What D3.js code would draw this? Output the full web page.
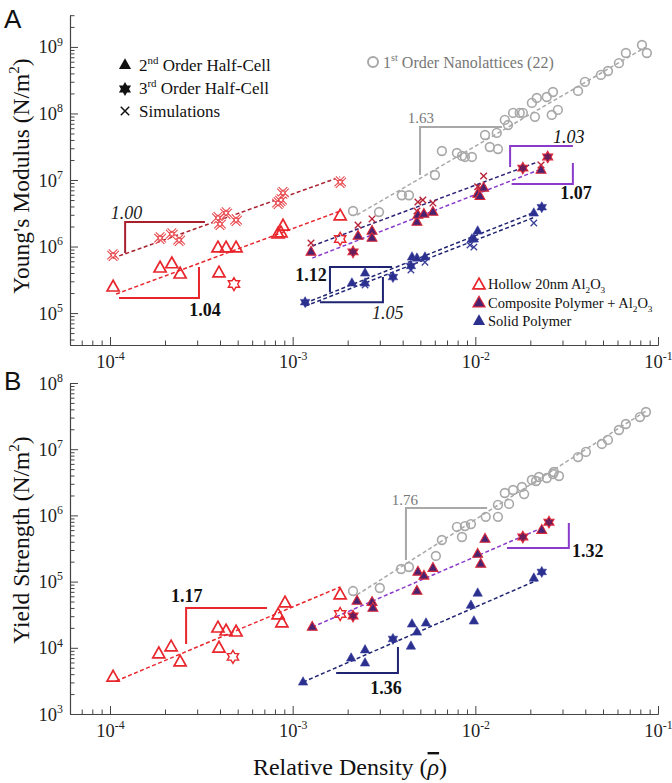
<!DOCTYPE html>
<html><head><meta charset="utf-8">
<script src="https://cdn.jsdelivr.net/npm/d3@7"></script>
<style>body{margin:0;background:#fff}svg{display:block}</style>
</head><body>
<svg id="c" width="672" height="783"></svg>
<script>
// ---------- DATA (relative density, value) ----------
// Panel A : Young's modulus
const modHollowTri = [[1.04e-4,2.46e5],[1.88e-4,4.75e5],[2.18e-4,5.5e5],[2.42e-4,3.86e5],[3.90e-4,9.5e5],[4.32e-4,9.5e5],[4.90e-4,9.5e5],[3.95e-4,4.0e5],[8.32e-4,1.54e6],[8.63e-4,1.6e6],[8.85e-4,2.03e6],[1.82e-3,2.88e6]];
const modHollowStar = [[4.77e-4,2.73e5],[1.82e-3,1.3e6]];
const modHollowSim = [[1.04e-4,7.4e5],[1.88e-4,1.34e6],[2.18e-4,1.54e6],[2.39e-4,1.25e6],[3.90e-4,2.69e6],[4.0e-4,2.18e6],[4.32e-4,3.19e6],[4.90e-4,2.5e6],[8.32e-4,4.5e6],[8.63e-4,5.0e6],[8.85e-4,6.4e6],[1.82e-3,9.3e6]];
const modCompTri = [[1.26e-3,8.3e5],[2.28e-3,1.44e6],[2.72e-3,1.71e6],[2.72e-3,1.34e6],[4.79e-3,2.34e6],[4.85e-3,2.98e6],[5.23e-3,3.08e6],[5.86e-3,3.3e6],[1.03e-2,6.15e6],[1.06e-2,5.7e6],[1.11e-2,7.6e6],[2.29e-2,1.41e7]];
const modCompStar = [[2.14e-3,8.3e5],[1.82e-2,1.51e7],[2.49e-2,2.22e7]];
const modCompSim = [[1.26e-3,1.13e6],[2.28e-3,2.1e6],[2.72e-3,2.6e6],[4.85e-3,4.67e6],[5.16e-3,5.0e6],[5.86e-3,4.5e6],[4.79e-3,3.42e6],[1.03e-2,7.9e6],[1.11e-2,1.15e7],[1.06e-2,7.6e6],[2.29e-2,1.68e7]];
const modSolidTri = [[2.11e-3,2.83e5],[2.49e-3,4.0e5],[2.49e-3,2.83e5],[4.5e-3,6.95e5],[4.79e-3,6.7e5],[5.30e-3,6.95e5],[9.58e-3,1.3e6],[9.82e-3,1.3e6],[1.03e-2,1.71e6],[2.09e-2,3.19e6]];
const modSolidStar = [[1.17e-3,1.46e5],[3.54e-3,3.48e5],[4.44e-3,5.1e5],[2.31e-2,3.9e6]];
const modSolidSim = [[2.49e-3,2.64e5],[4.44e-3,4.44e5],[5.30e-3,5.8e5],[9.34e-3,1.05e6],[9.82e-3,9.8e5],[2.09e-2,2.26e6]];
const modNano = [[2.14e-3,3.42e6],[2.97e-3,3.3e6],[3.96e-3,5.9e6],[4.33e-3,5.9e6],[6.01e-3,1.19e7],[6.56e-3,2.73e7],[7.93e-3,2.55e7],[8.45e-3,2.3e7],[8.77e-3,2.22e7],[9.58e-3,2.22e7],[1.13e-2,4.75e7],[1.20e-2,3.13e7],[1.31e-2,5.1e7],[1.33e-2,2.92e7],[1.45e-2,8.0e7],[1.51e-2,6.7e7],[1.61e-2,1.02e8],[1.75e-2,1.02e8],[1.82e-2,1.02e8],[2.04e-2,1.44e8],[2.12e-2,8.9e7],[2.17e-2,1.71e8],[2.46e-2,1.77e8],[2.62e-2,9.5e7],[2.66e-2,2.1e8],[2.83e-2,1.13e8],[3.65e-2,2.18e8],[3.98e-2,2.98e8],[4.87e-2,3.8e8],[5.32e-2,4.35e8],[6.11e-2,5.7e8],[6.67e-2,8.1e8],[8.17e-2,1.07e9],[8.69e-2,8.1e8]];
const modFitHollowSim = [[1.04e-4,6.7e5],[1.82e-3,1.11e7]];
const modFitHollow = [[1.08e-4,1.93e5],[1.82e-3,3.42e6]];
const modFitCompSim = [[1.28e-3,1.02e6],[2.20e-2,1.87e7]];
const modFitComp = [[1.28e-3,6.7e5],[2.29e-2,1.46e7]];
const modFitSolid1 = [[1.17e-3,1.41e5],[2.12e-2,3.3e6]];
const modFitSolid2 = [[1.17e-3,1.27e5],[2.12e-2,2.77e6]];
const modFitNano = [[2.25e-3,2.98e6],[8.6e-2,1.0e9]];
// Panel B : yield strength
const strHollowTri = [[1.04e-4,3.6e3],[1.85e-4,8.1e3],[2.16e-4,1.03e4],[2.42e-4,6.1e3],[3.90e-4,1.99e4],[3.95e-4,9.9e3],[4.32e-4,1.79e4],[4.90e-4,1.73e4],[8.32e-4,3.13e4],[8.73e-4,2.37e4],[9.08e-4,4.75e4],[1.82e-3,6.3e4]];
const strHollowStar = [[4.71e-4,7.3e3],[1.82e-3,3.24e4]];
const strCompTri = [[1.28e-3,2.06e4],[2.25e-3,5.1e4],[2.72e-3,4.9e4],[2.75e-3,4.0e4],[4.79e-3,7.2e4],[4.85e-3,1.4e5],[5.23e-3,1.22e5],[5.86e-3,1.6e5],[1.03e-2,2.61e5],[1.07e-2,1.85e5],[1.13e-2,4.4e5],[2.31e-2,6.0e5]];
const strCompStar = [[2.14e-3,3.02e4],[1.82e-2,4.72e5],[2.53e-2,7.9e5]];
const strSolidTri = [[1.14e-3,3.04e3],[2.09e-3,7.0e3],[2.49e-3,9.3e3],[2.49e-3,5.9e3],[4.44e-3,1.06e4],[4.5e-3,2.29e4],[4.79e-3,1.73e4],[5.37e-3,2.37e4],[9.46e-3,4.4e4],[1.03e-2,6.7e4],[9.82e-3,2.54e4],[2.09e-2,1.13e5]];
const strSolidStar = [[3.54e-3,1.36e4],[2.31e-2,1.4e5]];
const strNano = [[2.14e-3,7.2e4],[3.0e-3,8.0e4],[3.92e-3,1.55e5],[4.33e-3,1.66e5],[6.08e-3,2.44e5],[6.56e-3,4.25e5],[8.45e-3,4.72e5],[7.93e-3,6.7e5],[8.77e-3,6.9e5],[9.46e-3,7.4e5],[1.14e-2,9.5e5],[1.33e-2,9.5e5],[1.33e-2,1.44e6],[1.53e-2,1.49e6],[1.45e-2,2.18e6],[1.61e-2,2.42e6],[1.80e-2,2.69e6],[1.85e-2,2.1e6],[2.04e-2,3.43e6],[2.15e-2,3.31e6],[2.23e-2,3.8e6],[2.46e-2,3.67e6],[2.66e-2,4.22e6],[2.69e-2,4.53e6],[2.87e-2,3.94e6],[3.65e-2,7.6e6],[4.03e-2,9.1e6],[4.93e-2,1.2e7],[5.32e-2,1.38e7],[6.11e-2,1.95e7],[6.67e-2,2.4e7],[7.96e-2,3.06e7],[8.59e-2,3.65e7]];
const strFitHollow = [[1.08e-4,3.15e3],[1.82e-3,8.3e4]];
const strFitComp = [[1.28e-3,2.06e4],[2.31e-2,6.45e5]];
const strFitSolid = [[1.14e-3,3.04e3],[2.2e-2,1.06e5]];
const strFitNano = [[2.25e-3,6.3e4],[8.6e-2,3.78e7]];
// slope brackets (corner polylines) and their labels
const modSlopes = [
  {name:'1.00', pts:[[1.21e-4,7.98e5],[1.21e-4,2.34e6],[3.31e-4,2.34e6]], at:[1.23e-4,3.19e6]},
  {name:'1.04', pts:[[1.12e-4,1.68e5],[3.07e-4,1.68e5],[3.07e-4,4.92e5]], at:[3.31e-4,1.11e5]},
  {name:'1.63', pts:[[4.98e-3,1.19e7],[4.98e-3,6.27e7],[1.40e-2,6.27e7]], at:[5.03e-3,8.85e7]},
  {name:'1.03', pts:[[1.55e-2,1.57e7],[1.55e-2,3.24e7],[3.42e-2,3.24e7]], at:[3.25e-2,4.43e7]},
  {name:'1.07', pts:[[1.58e-2,8.7e6],[3.42e-2,8.7e6],[3.42e-2,1.8e7]], at:[3.56e-2,6.38e6]},
  {name:'1.12', pts:[[1.6e-3,2.07e5],[1.6e-3,4.92e5],[3.5e-3,4.92e5]], at:[1.26e-3,3.72e5]},
  {name:'1.05', pts:[[1.41e-3,1.46e5],[3.12e-3,1.46e5],[3.12e-3,3.48e5]], at:[3.32e-3,1.0e5]}
];
const strSlopes = [
  {name:'1.17', pts:[[2.61e-4,1.14e4],[2.61e-4,3.99e4],[7.23e-4,3.99e4]], at:[2.63e-4,6.05e4]},
  {name:'1.76', pts:[[4.17e-3,2.12e5],[4.17e-3,1.29e6],[1.16e-2,1.29e6]], at:[4.12e-3,1.77e6]},
  {name:'1.32', pts:[[1.49e-2,3.22e5],[3.25e-2,3.22e5],[3.25e-2,7.68e5]], at:[4.13e-2,2.9e5]},
  {name:'1.36', pts:[[1.73e-3,4.16e3],[3.77e-3,4.16e3],[3.77e-3,1.03e4]], at:[3.24e-3,2.47e3]}
];
const xTicks = [1e-4,1e-3,1e-2,1e-1];
const xTickExp = ['-4','-3','-2','-1'];
const yTicksA = [1e5,1e6,1e7,1e8,1e9];
const yTickExpA = ['5','6','7','8','9'];
const yTicksB = [1e3,1e4,1e5,1e6,1e7,1e8];
const yTickExpB = ['3','4','5','6','7','8'];

// ---------- STYLE ----------
const RED='#e8262c', DRED='#a8202e', PURP='#8b3bcb', NAVY='#1f2472', NAVY2='#2b2f8e', GRAY='#a8a8a8', CFILL='#4a2370';
const SERIF='Liberation Serif';
const svg = d3.select('#c');
const x = d3.scaleLog().domain([Math.pow(10,-4.219),0.1]).range([70,658]);
const yA = d3.scaleLog().domain([Math.pow(10,4.52),Math.pow(10,9.48)]).range([345,15]);
const yB = d3.scaleLog().domain([1e3,1e8]).range([714,383]);

function rich(t, parts, fs){
  let shift=0;
  t.style('font-family',SERIF);
  parts.forEach(p=>{
    const [s,k] = typeof p==='string'?[p,null]:p;
    const target = k==='sup'? -fs*0.42 : k==='sub'? fs*0.28 : 0;
    t.append('tspan').attr('dy',(target-shift)).style('font-size',(k?fs*0.64:fs)+'px').text(s);
    shift=target;
  });
}
function minorTicks(lo,hi,dom){
  const out=[];
  for(let d=lo; d<=hi; d++) for(let m=2;m<=9;m++){const v=m*Math.pow(10,d); if(v>=dom[0]&&v<=dom[1]) out.push(v);}
  return out;
}
function axes(y, yTicks, yExp, y0){
  const g = svg.append('g');
  const gx = g.append('g').attr('transform',`translate(0,${y0})`);
  gx.call(d3.axisBottom(x).tickValues(minorTicks(-5,-2,x.domain())).tickSizeInner(-4.5).tickSizeOuter(0).tickFormat(''));
  const gxm = g.append('g').attr('transform',`translate(0,${y0})`);
  gxm.call(d3.axisBottom(x).tickValues(xTicks).tickSizeInner(-8).tickSizeOuter(0).tickFormat(''));
  gxm.selectAll('.tick text').remove();
  gxm.selectAll('.tick').each(function(d,i){
    const t=d3.select(this).append('text').attr('y',23).attr('text-anchor','middle').attr('fill','#222');
    rich(t,['10',[xTickExp[i],'sup']],18.5);
  });
  const dom=y.domain();
  const gy = g.append('g').attr('transform','translate(70,0)');
  gy.call(d3.axisLeft(y).tickValues(minorTicks(2,9,dom)).tickSizeInner(-4.5).tickSizeOuter(0).tickFormat(''));
  const gym = g.append('g').attr('transform','translate(70,0)');
  gym.call(d3.axisLeft(y).tickValues(yTicks).tickSizeInner(-8).tickSizeOuter(0).tickFormat(''));
  gym.selectAll('.tick text').remove();
  gym.selectAll('.tick').each(function(d,i){
    const t=d3.select(this).append('text').attr('x',-7).attr('y',6).attr('text-anchor','end').attr('fill','#222');
    rich(t,['10',[yExp[i],'sup']],18.5);
  });
  g.selectAll('path.domain').attr('stroke','#444').attr('stroke-width',1.1);
  g.selectAll('.tick line').attr('stroke','#444').attr('stroke-width',1);
}
axes(yA, yTicksA, yTickExpA, 345);
axes(yB, yTicksB, yTickExpB, 714);

const triPath = s => `M0,${-s*0.62}L${s*0.55},${s*0.36}L${-s*0.55},${s*0.36}Z`;
function starPath(R){
  let p=''; for(let i=0;i<12;i++){const a=(-90+i*30)*Math.PI/180, r=i%2?R*0.577:R; p+=(i?'L':'M')+(r*Math.cos(a)).toFixed(2)+','+(r*Math.sin(a)).toFixed(2);} return p+'Z';
}
const xPath = a => `M${-a},${-a}L${a},${a}M${-a},${a}L${a},${-a}`;

function pts(data, y, path, st){
  const g=svg.append('g');
  g.selectAll('path').data(data).join('path')
    .attr('transform',d=>`translate(${x(d[0])},${y(d[1])})`)
    .attr('d',path).attr('fill',st.fill||'none').attr('stroke',st.stroke||'none')
    .attr('stroke-width',st.sw||1).attr('stroke-linejoin','miter');
  return g;
}
function fit(data, y, color, dash){
  svg.append('path').datum(data)
    .attr('d',d3.line().x(d=>x(d[0])).y(d=>y(d[1])))
    .attr('fill','none').attr('stroke',color).attr('stroke-width',1.5).attr('stroke-dasharray',dash||'4,2.5');
}
function simX(data,y){
  pts(data,y,xPath(5),{stroke:'#e8484e',sw:3.2});
  pts(data,y,xPath(5),{stroke:'#fff',sw:1.1});
  pts(data,y,starPath(3.2),{stroke:'#e8484e',sw:0.9});
}

fit(modFitNano, yA, GRAY);
fit(modFitHollowSim, yA, DRED);
fit(modFitHollow, yA, RED);
fit(modFitCompSim, yA, '#2e2378');
fit(modFitComp, yA, PURP);
fit(modFitSolid1, yA, NAVY);
fit(modFitSolid2, yA, NAVY);
fit(strFitNano, yB, GRAY);
fit(strFitHollow, yB, RED);
fit(strFitComp, yB, PURP);
fit(strFitSolid, yB, NAVY);

pts(modNano, yA, d3.symbol(d3.symbolCircle, 60)(), {stroke:GRAY, sw:1.6, fill:'none'});
pts(modHollowTri, yA, triPath(11), {stroke:RED, sw:1.7});
pts(modHollowStar, yA, starPath(6.5), {stroke:RED, sw:1.4});
simX(modHollowSim, yA);
pts(modCompSim, yA, xPath(3.3), {stroke:'#b8243a', sw:1.4});
pts(modCompTri, yA, triPath(9), {fill:CFILL, stroke:'#d8283a', sw:1.1});
pts(modCompStar, yA, starPath(5.8), {fill:'#6a1f5a', stroke:'#e02a3a', sw:1.1});
pts(modSolidSim, yA, xPath(3.2), {stroke:'#3a3f9a', sw:1.3});
pts(modSolidTri, yA, triPath(8.5), {fill:NAVY2, stroke:'#3a40a0', sw:0.6});
pts(modSolidStar, yA, starPath(5.5), {fill:NAVY2, stroke:'#3a40a0', sw:0.6});
pts(strNano, yB, d3.symbol(d3.symbolCircle, 60)(), {stroke:GRAY, sw:1.6, fill:'none'});
pts(strHollowTri, yB, triPath(11), {stroke:RED, sw:1.7});
pts(strHollowStar, yB, starPath(6.5), {stroke:RED, sw:1.4});
pts(strCompTri, yB, triPath(9), {fill:CFILL, stroke:'#d8283a', sw:1.1});
pts(strCompStar, yB, starPath(5.8), {fill:'#6a1f5a', stroke:'#e02a3a', sw:1.1});
pts(strSolidTri, yB, triPath(8.5), {fill:NAVY2, stroke:'#3a40a0', sw:0.6});
pts(strSolidStar, yB, starPath(5.5), {fill:NAVY2, stroke:'#3a40a0', sw:0.6});

const slopeStyle = {
  '1.00':{c:DRED, f:'italic', w:'normal', tc:'#222'},
  '1.04':{c:RED, f:'normal', w:'bold', tc:'#111'},
  '1.63':{c:GRAY, f:'normal', w:'normal', tc:'#777', fs:15},
  '1.03':{c:PURP, f:'italic', w:'normal', tc:'#111'},
  '1.07':{c:PURP, f:'normal', w:'bold', tc:'#111'},
  '1.12':{c:NAVY, f:'normal', w:'bold', tc:'#111'},
  '1.05':{c:NAVY, f:'italic', w:'normal', tc:'#222'},
  '1.17':{c:RED, f:'normal', w:'bold', tc:'#111'},
  '1.76':{c:GRAY, f:'normal', w:'normal', tc:'#777', fs:15},
  '1.32':{c:PURP, f:'normal', w:'bold', tc:'#111'},
  '1.36':{c:NAVY, f:'normal', w:'bold', tc:'#111'}
};
function slopes(list, y){
  list.forEach(s=>{
    const st=slopeStyle[s.name];
    svg.append('path').datum(s.pts).attr('d',d3.line().x(d=>x(d[0])).y(d=>y(d[1])))
      .attr('fill','none').attr('stroke',st.c).attr('stroke-width',2);
    svg.append('text').attr('x',x(s.at[0])).attr('y',y(s.at[1])+6).attr('text-anchor','middle')
      .style('font-family',SERIF).style('font-size',(st.fs||18)+'px').style('font-style',st.f).style('font-weight',st.w)
      .attr('fill',st.tc).text(s.name);
  });
}
slopes(modSlopes, yA);
slopes(strSlopes, yB);

const lg = svg.append('g').attr('fill','#111');
lg.append('path').attr('transform','translate(125,65)').attr('d',triPath(11)).attr('fill','#111');
lg.append('path').attr('transform','translate(125,89)').attr('d',starPath(7)).attr('fill','#111');
lg.append('path').attr('transform','translate(125,111)').attr('d',xPath(4.2)).attr('stroke','#111').attr('stroke-width',1.5);
rich(lg.append('text').attr('x',139).attr('y',71),['2',['nd','sup'],' Order Half-Cell'],17);
rich(lg.append('text').attr('x',139).attr('y',94),['3',['rd','sup'],' Order Half-Cell'],17);
rich(lg.append('text').attr('x',139).attr('y',117),['Simulations'],17);
lg.append('circle').attr('cx',373).attr('cy',62).attr('r',5).attr('fill','none').attr('stroke',GRAY).attr('stroke-width',2);
rich(lg.append('text').attr('x',383).attr('y',68).attr('fill','#777'),['1',['st','sup'],' Order Nanolattices (22)'],16);
lg.append('path').attr('transform','translate(479,285)').attr('d',triPath(11)).attr('fill','none').attr('stroke',RED).attr('stroke-width',1.7);
lg.append('path').attr('transform','translate(479,303)').attr('d',triPath(11)).attr('fill',CFILL).attr('stroke','#d8283a').attr('stroke-width',1.2);
lg.append('path').attr('transform','translate(479,321)').attr('d',triPath(11)).attr('fill',NAVY2);
rich(lg.append('text').attr('x',488).attr('y',289),['Hollow 20nm Al',['2','sub'],'O',['3','sub']],14.5);
rich(lg.append('text').attr('x',488).attr('y',308),['Composite Polymer + Al',['2','sub'],'O',['3','sub']],14.5);
rich(lg.append('text').attr('x',488).attr('y',326),['Solid Polymer'],14.5);

const tt = svg.append('g').attr('fill','#111');
rich(tt.append('text').attr('transform','translate(29,176) rotate(-90)').attr('text-anchor','middle'),["Young's Modulus (N/m",['2','sup'],')'],23.5);
rich(tt.append('text').attr('transform','translate(29,540) rotate(-90)').attr('text-anchor','middle'),["Yield Strength (N/m",['2','sup'],')'],23.5);
const xt = tt.append('text').attr('x',350).attr('y',775).attr('text-anchor','middle').style('font-family',SERIF).style('font-size','24px');
xt.append('tspan').text('Relative Density (');
xt.append('tspan').style('font-style','italic').style('text-decoration','overline').text('ρ');
xt.append('tspan').text(')');
svg.append('text').attr('x',4).attr('y',28).style('font-family','Liberation Sans').style('font-size','26px').attr('fill','#111').text('A');
svg.append('text').attr('x',4).attr('y',390).style('font-family','Liberation Sans').style('font-size','26px').attr('fill','#111').text('B');
</script>
</body></html>
